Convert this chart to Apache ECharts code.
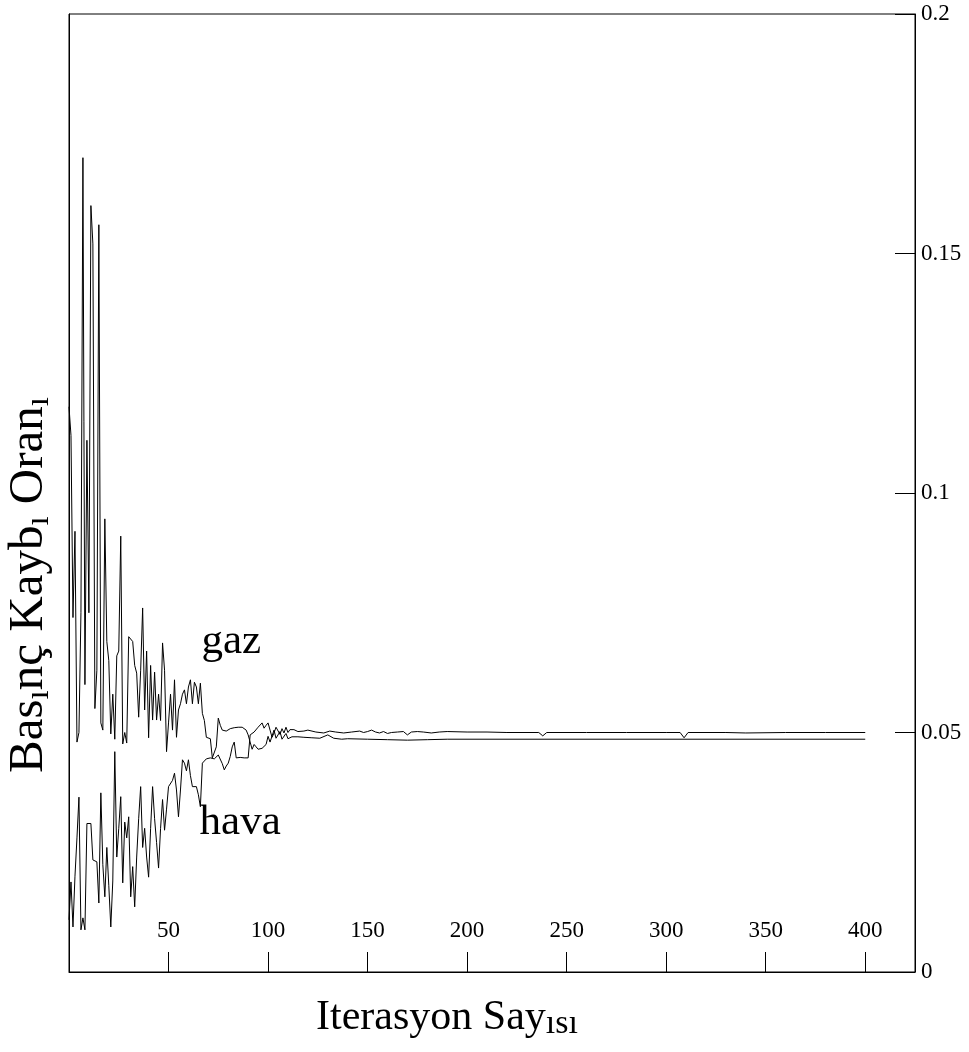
<!DOCTYPE html>
<html>
<head>
<meta charset="utf-8">
<script src="https://cdn.jsdelivr.net/npm/echarts/dist/echarts.min.js"></script>
<style>
  html, body { margin: 0; padding: 0; background: #fff; }
  #chart { width: 969px; height: 1052px; }
</style>
</head>
<body>
<div id="chart"></div>
<script>
  // gaz: iterations 0..113 one by one, then sparse points on the flat part
  var gazDense = [
    0.118, 0.112, 0.074, 0.092, 0.048, 0.050, 0.075, 0.170, 0.060, 0.111,
    0.075, 0.160, 0.152, 0.055, 0.063, 0.156, 0.052, 0.0505, 0.0946, 0.069,
    0.065, 0.0497, 0.058, 0.0486, 0.066, 0.067, 0.091, 0.0476, 0.050, 0.0478,
    0.070, 0.070, 0.069, 0.064, 0.0624, 0.0532, 0.063, 0.076, 0.0547, 0.067,
    0.0489, 0.064, 0.0526, 0.0626, 0.0526, 0.058, 0.0525, 0.0687, 0.063, 0.046,
    0.052, 0.058, 0.0505, 0.061, 0.049, 0.0547, 0.056, 0.058, 0.0589, 0.056,
    0.0595, 0.061, 0.056, 0.0605, 0.0595, 0.056, 0.0603, 0.054, 0.0525, 0.049,
    0.049, 0.0487, 0.0447, 0.0449, 0.047, 0.053, 0.0515, 0.0505, 0.0505, 0.0503,
    0.0505, 0.0508, 0.0505, 0.051, 0.0509, 0.0511, 0.0508, 0.0511, 0.0509, 0.0505,
    0.0495, 0.0491, 0.0465, 0.0475, 0.047, 0.0465, 0.0463, 0.0467, 0.047, 0.0475,
    0.0492, 0.048, 0.0484, 0.0505, 0.0488, 0.0491, 0.0502, 0.0486, 0.0484, 0.0498,
    0.0487, 0.049, 0.0491, 0.0495
  ]
  var gazTailIter = [115, 118, 122, 126, 130, 133, 137, 140, 150, 160, 170, 180, 190, 400]
  var gazTail = [0.0491, 0.049, 0.0489, 0.0488, 0.0495, 0.0488, 0.0486, 0.0487, 0.0486, 0.0485, 0.0484, 0.0485, 0.0486, 0.0486]

  // hava
  var havaDense = [
    0.0109, 0.0188, 0.0094, 0.020, 0.028, 0.0365, 0.0088, 0.0113, 0.0088, 0.031,
    0.0312, 0.031, 0.0234, 0.0232, 0.023, 0.0144, 0.0374, 0.0224, 0.0157, 0.026,
    0.018, 0.0094, 0.019, 0.046, 0.024, 0.030, 0.0366, 0.0186, 0.0313, 0.028,
    0.0324, 0.0157, 0.022, 0.0136, 0.024, 0.032, 0.0387, 0.026, 0.030, 0.024,
    0.0198, 0.030, 0.0387, 0.032, 0.027, 0.0217, 0.030, 0.036, 0.0296, 0.034,
    0.0387, 0.039, 0.040, 0.0415, 0.038, 0.0324, 0.038, 0.0443, 0.0436, 0.042,
    0.0443, 0.041, 0.0387, 0.039, 0.0387, 0.037, 0.0345, 0.0436, 0.044, 0.0445,
    0.0449, 0.0447, 0.0447, 0.0445, 0.0443, 0.0453, 0.045, 0.0435, 0.0422, 0.043,
    0.0436, 0.045, 0.047, 0.048, 0.0447, 0.0447, 0.0448, 0.0446, 0.0447, 0.0447,
    0.0447, 0.0495, 0.0498, 0.0501, 0.0505, 0.0511, 0.0515, 0.052, 0.0509, 0.0515,
    0.052, 0.0505, 0.049, 0.0499, 0.0511, 0.0509, 0.0496, 0.0508, 0.0499, 0.0511,
    0.050, 0.0506, 0.0505, 0.0506
  ]
  var havaTailIter = [115, 118, 120, 124, 128, 131, 134, 138, 142, 146, 148, 150, 152, 154, 156, 158,
    160, 162, 165, 168, 170, 172, 175, 178, 182, 186, 190, 200, 210, 220, 236, 238, 240, 260,
    280, 300, 307, 309, 311, 330, 340, 360, 380, 400]
  var havaTail = [0.0502, 0.0503, 0.0505, 0.0501, 0.0499, 0.0503, 0.0501, 0.0499, 0.0501, 0.0503, 0.050,
    0.0502, 0.0505, 0.0501, 0.0499, 0.0502, 0.0498, 0.050, 0.0501, 0.0502, 0.0495, 0.0501, 0.0502,
    0.0501, 0.0499, 0.0501, 0.0502, 0.0501, 0.0501, 0.050, 0.050, 0.0493, 0.050, 0.050, 0.050,
    0.050, 0.050, 0.0489, 0.050, 0.050, 0.0499, 0.050, 0.050, 0.050]

  var xTicks = [50, 100, 150, 200, 250, 300, 350, 400]

  function toPairs(dense, tailIter, tail) {
    var out = []
    for (var i = 0; i < dense.length; i++) {
      out.push([i, dense[i]])
    }
    for (var j = 0; j < tail.length; j++) {
      out.push([tailIter[j], tail[j]])
    }
    return out
  }

  var serif = '"Liberation Serif", "DejaVu Serif", serif'
  // axis titles: the dotless "ı" is set smaller, like in the original
  var xBig = { fontSize: 42, fontFamily: serif, color: '#000', lineHeight: 46, verticalAlign: 'middle' }
  var xSmall = { fontSize: 34, fontFamily: serif, color: '#000', lineHeight: 41, verticalAlign: 'bottom' }
  var yBig = { fontSize: 49, fontFamily: serif, color: '#000', lineHeight: 53, verticalAlign: 'middle' }
  var ySmall = { fontSize: 33, fontFamily: serif, color: '#000', lineHeight: 43, verticalAlign: 'bottom' }

  var chart = echarts.init(document.getElementById('chart'))
  chart.setOption({
    animation: false,
    backgroundColor: '#fff',
    textStyle: { fontFamily: serif, color: '#000' },
    grid: {
      left: 69,
      right: 54,
      top: 14,
      bottom: 80,
      outerBoundsMode: 'none',
      containLabel: false,
      show: true,
      borderColor: '#000',
      borderWidth: 1
    },
    xAxis: {
      type: 'value',
      min: 0,
      max: 425,
      interval: 50,
      axisLine: { show: true, onZero: false, lineStyle: { color: '#000', width: 1 } },
      axisTick: { show: true, inside: true, length: 20, lineStyle: { color: '#000' } },
      axisLabel: {
        inside: true,
        margin: 30,
        fontSize: 23,
        fontFamily: serif,
        color: '#000',
        formatter: function(v) {
          return xTicks.indexOf(v) >= 0 ? String(v) : ''
        }
      },
      splitLine: { show: false },
      name: '{b|Iterasyon Say}{s|ısı}',
      nameLocation: 'middle',
      nameGap: 23,
      nameTextStyle: {
        padding: [0, 90, 0, 0],
        rich: { b: xBig, s: xSmall }
      }
    },
    yAxis: [{
      type: 'value',
      position: 'right',
      min: 0,
      max: 0.2,
      interval: 0.05,
      axisLine: { show: true, onZero: false, lineStyle: { color: '#000', width: 1 } },
      axisTick: { show: true, inside: true, length: 20, lineStyle: { color: '#000' } },
      axisLabel: { margin: 6, fontSize: 23, fontFamily: serif, color: '#000' },
      splitLine: { show: false }
    }, {
      type: 'value',
      position: 'left',
      min: 0,
      max: 0.2,
      axisLine: { show: true, onZero: false, lineStyle: { color: '#000', width: 1 } },
      axisTick: { show: false },
      axisLabel: { show: false },
      splitLine: { show: false },
      name: '{b|Bas}{s|ı}{b|nç Kayb}{s|ı}{b| Oran}{s|ı}',
      nameLocation: 'middle',
      nameRotate: 90,
      nameGap: 13,
      nameTextStyle: {
        padding: [0, 184, 0, 0],
        rich: { b: yBig, s: ySmall }
      }
    }],
    series: [{
      name: 'gaz',
      type: 'line',
      yAxisIndex: 0,
      symbol: 'none',
      lineStyle: { color: '#000', width: 1 },
      data: toPairs(gazDense, gazTailIter, gazTail),
      markPoint: {
        symbol: 'circle',
        symbolSize: 0,
        label: { show: true, position: 'inside', formatter: 'gaz', fontSize: 43, fontFamily: serif, color: '#000' },
        data: [{ coord: [81.5, 0.069] }]
      }
    }, {
      name: 'hava',
      type: 'line',
      yAxisIndex: 0,
      symbol: 'none',
      lineStyle: { color: '#000', width: 1 },
      data: toPairs(havaDense, havaTailIter, havaTail),
      markPoint: {
        symbol: 'circle',
        symbolSize: 0,
        label: { show: true, position: 'inside', formatter: 'hava', fontSize: 43, fontFamily: serif, color: '#000' },
        data: [{ coord: [86, 0.0312] }]
      }
    }]
  })
</script>
</body>
</html>
